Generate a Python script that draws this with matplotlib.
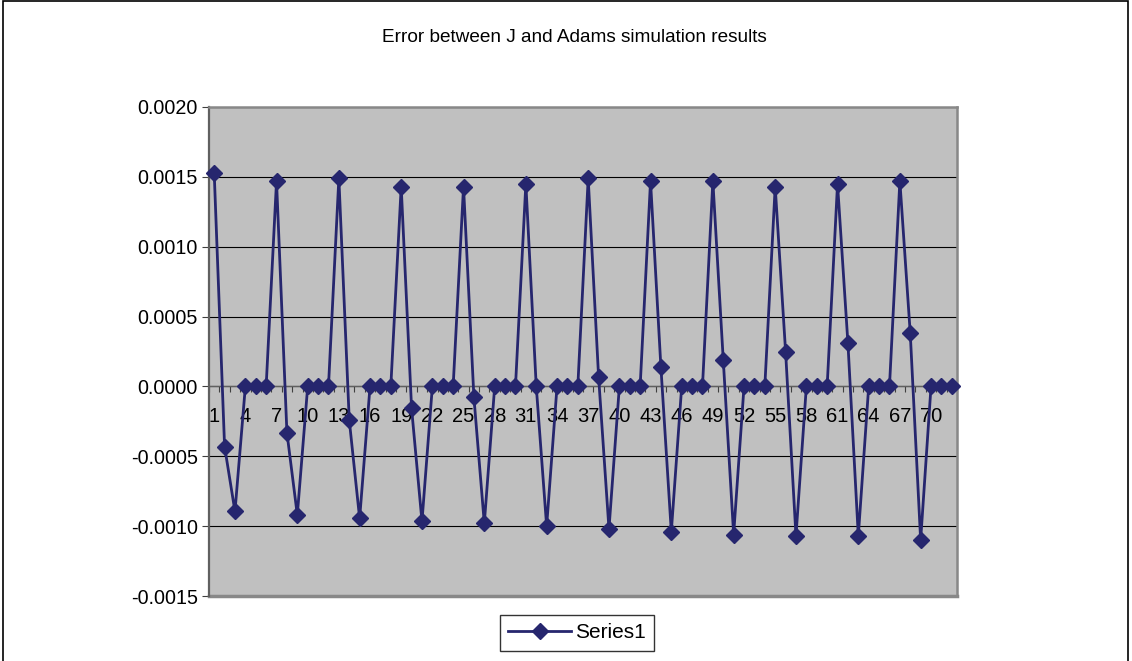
import matplotlib
matplotlib.use("Agg")
import matplotlib.pyplot as plt
from matplotlib.lines import Line2D
from matplotlib.ticker import FormatStrFormatter

plt.rcParams['font.family'] = ['Liberation Sans', 'DejaVu Sans']

# data (72 samples, period of 6)
peaks = [0.00153, 0.00147, 0.00149, 0.00143, 0.00143, 0.00145,
         0.00149, 0.00147, 0.00147, 0.00143, 0.00145, 0.00147]
after_peak = [-0.00043, -0.00033, -0.00024, -0.000157, -0.000079, 0.0,
              0.00007, 0.000136, 0.00019, 0.00025, 0.00031, 0.00038]
troughs = [-0.000895, -0.00092, -0.000945, -0.000966, -0.00098, -0.001,
           -0.00102, -0.00104, -0.00106, -0.00107, -0.00107, -0.0011]
flat = [0.0, 0.0, 0.0]

values = []
for p, a, t in zip(peaks, after_peak, troughs):
    values += [p, a, t] + flat
x = list(range(1, len(values) + 1))
x_labels = [str(i) for i in range(1, 71, 3)]

navy = '#26266e'

fig = plt.figure(figsize=(11.32, 6.61), dpi=100)
ax = fig.add_axes([209 / 1132, 65 / 661, 748 / 1132, 489 / 661])
ax.set_facecolor('#c0c0c0')

ax.plot(x, values, color=navy, lw=2.0, marker='D', ms=8.6,
        markerfacecolor=navy, markeredgecolor=navy, zorder=3,
        label='Series1', clip_on=False)

ax.set_ylim(-0.0015, 0.0020)
ax.set_yticks([-0.0015, -0.0010, -0.0005, 0.0, 0.0005, 0.0010, 0.0015, 0.0020])
ax.yaxis.set_major_formatter(FormatStrFormatter('%.4f'))
ax.grid(axis='y', color='black', lw=0.8)
ax.set_axisbelow(True)

ax.set_xlim(0.5, len(values) + 0.5)
ax.set_xticks(range(1, 71, 3))
ax.set_xticklabels(x_labels)
ax.set_xticks([i + 0.5 for i in range(0, len(values) + 1)], minor=True)
ax.tick_params(axis='x', which='major', length=0, pad=15, labelsize=14.5)
ax.tick_params(axis='x', which='minor', length=4, width=0.8, color='#404040',
               direction='out')
ax.tick_params(axis='y', length=5, width=0.8, color='#404040', labelsize=14.2, pad=3)

ax.spines['bottom'].set_position(('data', 0))
ax.spines['bottom'].set_color('#606060')
ax.spines['bottom'].set_linewidth(1.0)
ax.spines['left'].set_color('#606060')
ax.spines['left'].set_linewidth(1.6)
for side in ('top', 'right'):
    ax.spines[side].set_color('#888888')
    ax.spines[side].set_linewidth(1.8)

# gray frame of the plot area bottom edge
ax.axhline(-0.0015, color='#888888', lw=2.5, zorder=1, clip_on=False)

fig.text(574 / 1132, 1 - 38 / 661, 'Error between J and Adams simulation results',
         ha='center', va='center', fontsize=13.7)

handle = Line2D([], [], color=navy, lw=2.0, marker='D', ms=8.6)
fig.legend([handle], ['Series1'], loc='center', bbox_to_anchor=(577 / 1132, 1 - 633 / 661),
           fontsize=15, frameon=True, fancybox=False, edgecolor='black',
           handlelength=3.0, handletextpad=0.2, borderpad=0.4, borderaxespad=0)

# outer chart border (bottom edge lies outside the image)
fig.add_artist(plt.Rectangle((3 / 1132, -0.05), 1125 / 1132, 1.05 - 1.5 / 661,
                             transform=fig.transFigure, fill=False,
                             edgecolor='black', lw=1.2))

fig.savefig('out.png', dpi=100)
